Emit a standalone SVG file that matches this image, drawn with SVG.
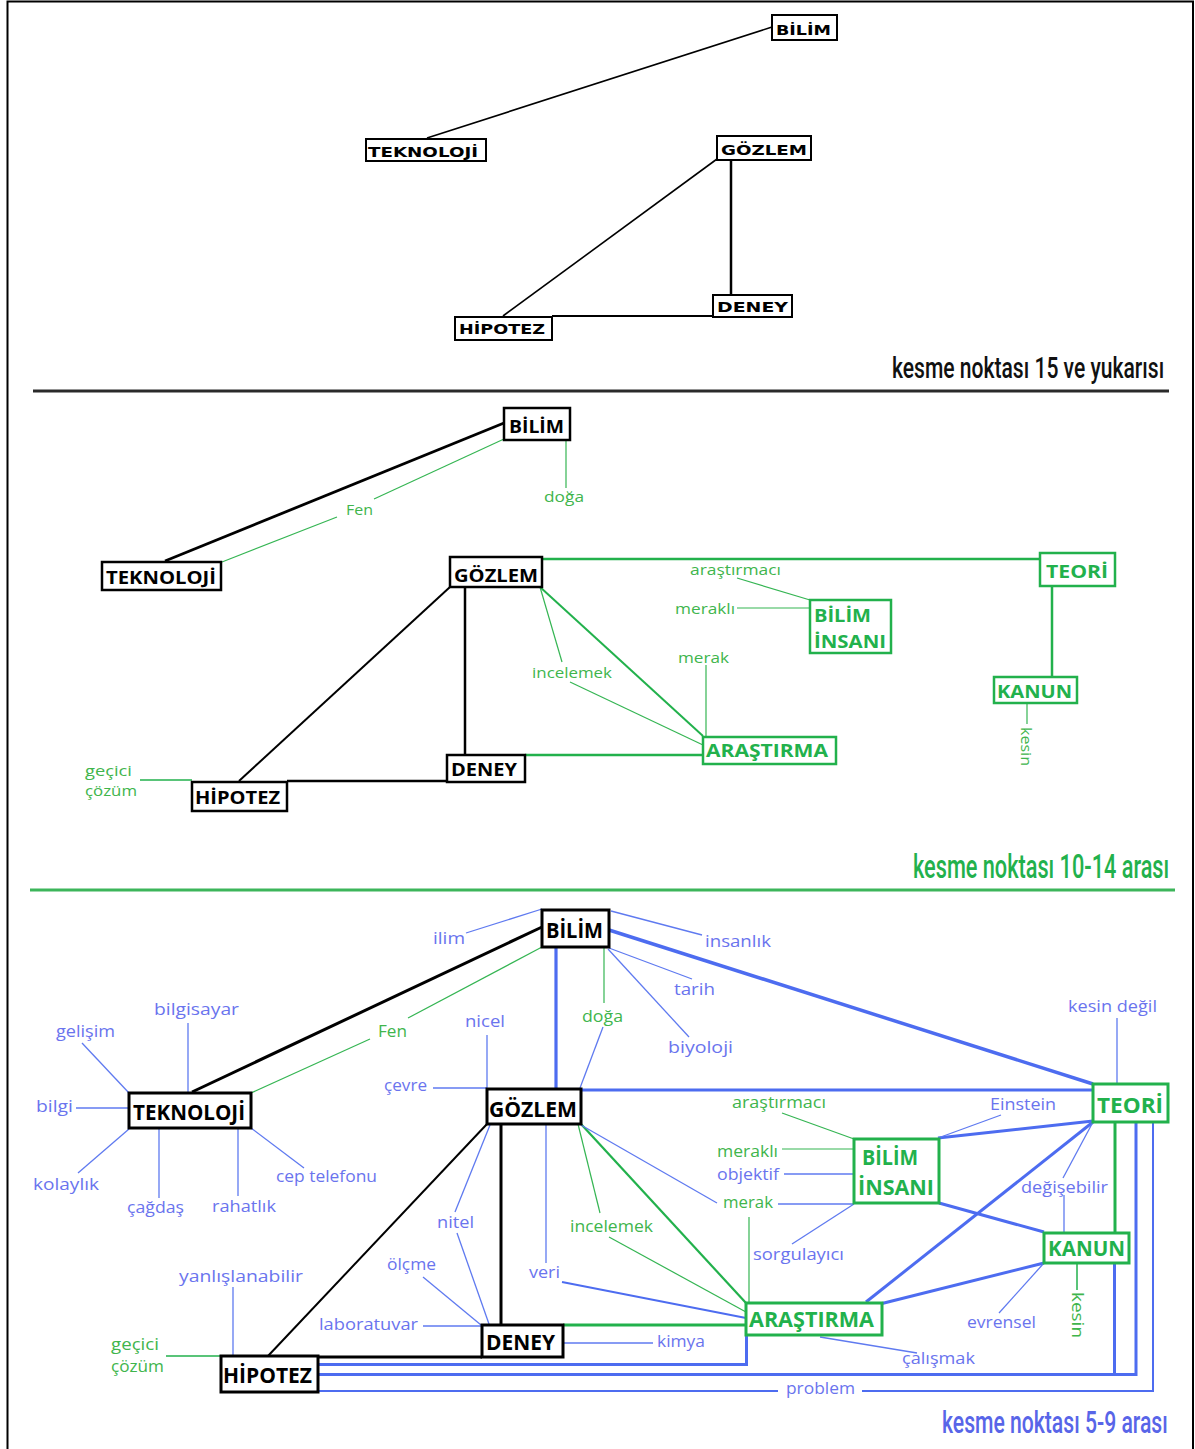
<svg xmlns="http://www.w3.org/2000/svg" width="1195" height="1449" viewBox="0 0 1195 1449">
<style>
.frame{fill:none;stroke:#000;stroke-width:2}
.nb{fill:#fff;stroke:#000}
.ng{fill:#fff;stroke:#22b14c}
.n1{font-family:"DejaVu Sans",sans-serif;font-weight:bold;font-size:14px;fill:#000}
.n2{font-family:"Open Sans","Liberation Sans",sans-serif;font-weight:bold;font-size:18px}
.n3{font-family:"Open Sans","Liberation Sans",sans-serif;font-weight:bold;font-size:21px}
.tk{fill:#000}
.tg{fill:#22b14c}
.l2{font-family:"Open Sans","Noto Sans",sans-serif;font-size:14px}
.l3{font-family:"Open Sans","Noto Sans",sans-serif;font-size:16.5px}
.lg{fill:#40b54c}
.lb{fill:#6a74ee}
.ttl{font-family:Roboto,"Liberation Sans",sans-serif;font-weight:500}
.k{stroke:#000;fill:none}
.g{stroke:#22b14c;fill:none}
.b{stroke:#4d6cf0;fill:none}
.bt{stroke:#5f7af0;fill:none;stroke-width:1.3}
.gt{stroke:#35b553;fill:none;stroke-width:1.2}
</style>
<rect class="frame" x="7.5" y="1.5" width="1185.5" height="1460"/>
<line x1="33" y1="391" x2="1169" y2="391" stroke="#2a2a2a" stroke-width="3"/>
<line x1="30" y1="890" x2="1175" y2="890" stroke="#3cb55a" stroke-width="3"/>
<g transform="translate(892,378) scale(0.72,1)"><text class="ttl" x="0" y="0" font-size="30" fill="#111" textLength="378" lengthAdjust="spacingAndGlyphs">kesme noktası 15 ve yukarısı</text></g>
<g transform="translate(913,878) scale(0.7,1)"><text class="ttl" x="0" y="0" font-size="33" fill="#22b14c" textLength="366" lengthAdjust="spacingAndGlyphs">kesme noktası 10-14 arası</text></g>
<g transform="translate(942,1433) scale(0.66,1)"><text class="ttl" x="0" y="0" font-size="32" fill="#5865e8" textLength="342" lengthAdjust="spacingAndGlyphs">kesme noktası 5-9 arası</text></g>

<g id="connectors">
  <!-- section 1 -->
  <line class="k" stroke-width="1.6" x1="772" y1="27" x2="427" y2="138"/>
  <line class="k" stroke-width="1.6" x1="717" y1="159" x2="503" y2="316"/>
  <line class="k" stroke-width="2.5" x1="731" y1="160" x2="731" y2="295"/>
  <line class="k" stroke-width="2" x1="552" y1="316" x2="713" y2="316"/>
  <!-- section 2 -->
  <line class="k" stroke-width="2.8" x1="504" y1="423" x2="165" y2="561"/>
  <polyline class="gt" points="504,439 374,499"/>
  <polyline class="gt" points="337,517 222,562"/>
  <line class="gt" x1="566" y1="440" x2="566" y2="488"/>
  <line class="g" stroke-width="2.5" x1="542" y1="559" x2="1040" y2="559"/>
  <line class="g" stroke-width="2.5" x1="1052" y1="586" x2="1052" y2="677"/>
  <line class="gt" x1="1027" y1="703" x2="1027" y2="724"/>
  <line class="gt" x1="737" y1="578" x2="810" y2="600"/>
  <line class="gt" x1="737" y1="608" x2="810" y2="608"/>
  <line class="gt" x1="706" y1="665" x2="706" y2="737"/>
  <line class="g" stroke-width="2" x1="540" y1="587" x2="703" y2="736"/>
  <line class="gt" x1="540" y1="587" x2="562" y2="662"/>
  <line class="gt" x1="570" y1="682" x2="703" y2="745"/>
  <line class="g" stroke-width="2.5" x1="525" y1="755" x2="703" y2="755"/>
  <line class="k" stroke-width="2" x1="450" y1="587" x2="239" y2="781"/>
  <line class="k" stroke-width="2.5" x1="465" y1="587" x2="465" y2="755"/>
  <line class="k" stroke-width="2.5" x1="287" y1="781" x2="447" y2="781"/>
  <line class="g" stroke-width="1.5" x1="140" y1="780" x2="192" y2="780"/>
  <!-- section 3 black -->
  <line class="k" stroke-width="3" x1="542" y1="927" x2="192" y2="1092"/>
  <line class="k" stroke-width="2" x1="487" y1="1124" x2="268" y2="1356"/>
  <line class="k" stroke-width="3" x1="501" y1="1124" x2="501" y2="1325"/>
  <line class="k" stroke-width="3" x1="318" y1="1357" x2="482" y2="1357"/>
  <!-- section 3 green -->
  <line class="gt" x1="542" y1="947" x2="408" y2="1018"/>
  <line class="gt" x1="370" y1="1039" x2="251" y2="1093"/>
  <line class="gt" x1="604" y1="947" x2="604" y2="1003"/>
  <line class="g" stroke-width="2.2" x1="581" y1="1124" x2="746" y2="1303"/>
  <line class="gt" x1="578" y1="1124" x2="600" y2="1213"/>
  <line class="gt" x1="609" y1="1237" x2="746" y2="1312"/>
  <line class="g" stroke-width="2.8" x1="563" y1="1325" x2="746" y2="1325"/>
  <line class="gt" x1="749" y1="1217" x2="749" y2="1303"/>
  <line class="gt" x1="782" y1="1113" x2="854" y2="1139"/>
  <line class="gt" x1="782" y1="1149" x2="854" y2="1149"/>
  <line class="g" stroke-width="3" x1="1115" y1="1123" x2="1115" y2="1233"/>
  <line class="g" stroke-width="1.5" x1="1077" y1="1263" x2="1077" y2="1290"/>
  <line class="g" stroke-width="1.5" x1="166" y1="1356" x2="221" y2="1356"/>
  <!-- section 3 blue thick -->
  <line class="b" stroke-width="3.5" x1="609" y1="930" x2="1093" y2="1084"/>
  <line class="b" stroke-width="3.2" x1="556" y1="947" x2="556" y2="1089"/>
  <line class="b" stroke-width="3" x1="581" y1="1090" x2="1093" y2="1090"/>
  <line class="b" stroke-width="3" x1="938" y1="1138" x2="1093" y2="1121"/>
  <line class="b" stroke-width="3" x1="939" y1="1203" x2="1044" y2="1232"/>
  <line class="b" stroke-width="3" x1="866" y1="1302" x2="1093" y2="1122"/>
  <line class="b" stroke-width="3" x1="880" y1="1304" x2="1044" y2="1263"/>
  <polyline class="b" stroke-width="3" points="318,1364.5 746.5,1364.5 746.5,1335"/>
  <polyline class="b" stroke-width="3" points="318,1374.5 1136,1374.5 1136,1123"/>
  <line class="b" stroke-width="3" x1="1114.5" y1="1263" x2="1114.5" y2="1374.5"/>
  <polyline class="b" stroke-width="2" points="318,1391 778,1391"/>
  <polyline class="b" stroke-width="2" points="862,1391 1153,1391 1153,1123"/>
  <!-- section 3 blue thin -->
  <line class="bt" x1="542" y1="909" x2="466" y2="933"/>
  <line class="bt" x1="611" y1="911" x2="702" y2="935"/>
  <line class="bt" x1="609" y1="948" x2="692" y2="979"/>
  <line class="bt" x1="608" y1="949" x2="689" y2="1037"/>
  <line class="bt" x1="603" y1="1027" x2="580" y2="1088"/>
  <line class="bt" x1="487" y1="1035" x2="487" y2="1089"/>
  <line class="bt" x1="433" y1="1088" x2="487" y2="1088"/>
  <line class="bt" x1="188" y1="1023" x2="188" y2="1093"/>
  <line class="bt" x1="82" y1="1043" x2="129" y2="1093"/>
  <line class="bt" x1="76" y1="1108" x2="129" y2="1108"/>
  <line class="bt" x1="78" y1="1173" x2="129" y2="1129"/>
  <line class="bt" x1="159" y1="1129" x2="159" y2="1198"/>
  <line class="bt" x1="238" y1="1129" x2="238" y2="1196"/>
  <line class="bt" x1="251" y1="1128" x2="304" y2="1168"/>
  <line class="bt" x1="233" y1="1287" x2="233" y2="1356"/>
  <line class="bt" x1="563" y1="1343" x2="653" y2="1343"/>
  <line class="bt" x1="423" y1="1326" x2="482" y2="1326"/>
  <line class="bt" x1="423" y1="1277" x2="481" y2="1325"/>
  <line class="bt" x1="490" y1="1125" x2="455" y2="1212"/>
  <line class="bt" x1="457" y1="1233" x2="489" y2="1324"/>
  <line class="bt" x1="546" y1="1124" x2="546" y2="1263"/>
  <line class="b" stroke-width="1.8" x1="562" y1="1282" x2="746" y2="1318"/>
  <line class="bt" x1="784" y1="1174" x2="854" y2="1174"/>
  <line class="bt" x1="778" y1="1204" x2="854" y2="1204"/>
  <line class="bt" x1="581" y1="1125" x2="717" y2="1203"/>
  <line class="bt" x1="792" y1="1244" x2="854" y2="1204"/>
  <line class="bt" x1="1001" y1="1115" x2="938" y2="1138"/>
  <line class="bt" x1="1093" y1="1122" x2="1063" y2="1178"/>
  <line class="bt" x1="1064" y1="1195" x2="1064" y2="1233"/>
  <line class="bt" x1="1117" y1="1018" x2="1117" y2="1084"/>
  <line class="bt" x1="999" y1="1313" x2="1044" y2="1263"/>
  <line class="bt" x1="820" y1="1337" x2="917" y2="1353"/>
</g>

<!-- section 1 nodes -->
<g id="s1-bilim"><rect class="nb" stroke-width="2" x="772" y="15" width="65" height="25"/><text class="n1" x="776" y="35" textLength="55" lengthAdjust="spacingAndGlyphs">BİLİM</text></g>
<g id="s1-teknoloji"><rect class="nb" stroke-width="2" x="366" y="139" width="120" height="22"/><text class="n1" x="368" y="157" textLength="110" lengthAdjust="spacingAndGlyphs">TEKNOLOJİ</text></g>
<g id="s1-gozlem"><rect class="nb" stroke-width="2" x="717" y="136" width="94" height="24"/><text class="n1" x="721" y="155" textLength="86" lengthAdjust="spacingAndGlyphs">GÖZLEM</text></g>
<g id="s1-deney"><rect class="nb" stroke-width="2" x="713" y="295" width="79" height="22"/><text class="n1" x="717" y="312" textLength="71" lengthAdjust="spacingAndGlyphs">DENEY</text></g>
<g id="s1-hipotez"><rect class="nb" stroke-width="2" x="455" y="317" width="97" height="23"/><text class="n1" x="459" y="334" textLength="86" lengthAdjust="spacingAndGlyphs">HİPOTEZ</text></g>

<!-- section 2 nodes -->
<g id="s2-bilim"><rect class="nb" stroke-width="2.5" x="504" y="408" width="66" height="32"/><text class="n2 tk" x="509" y="433" textLength="55" lengthAdjust="spacingAndGlyphs">BİLİM</text></g>
<g id="s2-teknoloji"><rect class="nb" stroke-width="2.5" x="102" y="562" width="119" height="28"/><text class="n2 tk" x="106" y="584" textLength="110" lengthAdjust="spacingAndGlyphs">TEKNOLOJİ</text></g>
<g id="s2-gozlem"><rect class="nb" stroke-width="2.5" x="450" y="557" width="92" height="30"/><text class="n2 tk" x="454" y="582" textLength="84" lengthAdjust="spacingAndGlyphs">GÖZLEM</text></g>
<g id="s2-deney"><rect class="nb" stroke-width="2.5" x="447" y="755" width="78" height="27"/><text class="n2 tk" x="451" y="776" textLength="66" lengthAdjust="spacingAndGlyphs">DENEY</text></g>
<g id="s2-hipotez"><rect class="nb" stroke-width="2.5" x="192" y="782" width="95" height="29"/><text class="n2 tk" x="195" y="804" textLength="85" lengthAdjust="spacingAndGlyphs">HİPOTEZ</text></g>
<g id="s2-teori"><rect class="ng" stroke-width="2.5" x="1040" y="553" width="75" height="33"/><text class="n2 tg" x="1046" y="578" textLength="62" lengthAdjust="spacingAndGlyphs">TEORİ</text></g>
<g id="s2-biliminsani"><rect class="ng" stroke-width="2.5" x="810" y="600" width="81" height="53"/><text class="n2 tg" x="814" y="622" textLength="57" lengthAdjust="spacingAndGlyphs">BİLİM</text><text class="n2 tg" x="814" y="648" textLength="72" lengthAdjust="spacingAndGlyphs">İNSANI</text></g>
<g id="s2-kanun"><rect class="ng" stroke-width="2.5" x="994" y="677" width="83" height="26"/><text class="n2 tg" x="997" y="698" textLength="75" lengthAdjust="spacingAndGlyphs">KANUN</text></g>
<g id="s2-arastirma"><rect class="ng" stroke-width="2.5" x="703" y="737" width="133" height="27"/><text class="n2 tg" x="706" y="757" textLength="122" lengthAdjust="spacingAndGlyphs">ARAŞTIRMA</text></g>

<!-- section 2 labels -->
<g id="s2-labels">
<text class="l2 lg" x="346" y="515" textLength="27" lengthAdjust="spacingAndGlyphs">Fen</text>
<text class="l2 lg" x="544" y="502" textLength="40" lengthAdjust="spacingAndGlyphs">doğa</text>
<text class="l2 lg" x="690" y="575" textLength="91" lengthAdjust="spacingAndGlyphs">araştırmacı</text>
<text class="l2 lg" x="675" y="614" textLength="60" lengthAdjust="spacingAndGlyphs">meraklı</text>
<text class="l2 lg" x="678" y="663" textLength="51" lengthAdjust="spacingAndGlyphs">merak</text>
<text class="l2 lg" x="532" y="678" textLength="80" lengthAdjust="spacingAndGlyphs">incelemek</text>
<text class="l2 lg" x="85" y="776" textLength="47" lengthAdjust="spacingAndGlyphs">geçici</text>
<text class="l2 lg" x="85" y="796" textLength="52" lengthAdjust="spacingAndGlyphs">çözüm</text>
<text class="l2 lg" transform="translate(1021,727) rotate(90)" x="0" y="0" textLength="39" lengthAdjust="spacingAndGlyphs">kesin</text>
</g>

<!-- section 3 nodes -->
<g id="s3-bilim"><rect class="nb" stroke-width="3" x="542" y="910" width="67" height="37"/><text class="n3 tk" x="546" y="938" textLength="57" lengthAdjust="spacingAndGlyphs">BİLİM</text></g>
<g id="s3-teknoloji"><rect class="nb" stroke-width="3" x="129" y="1093" width="122" height="35"/><text class="n3 tk" x="133" y="1120" textLength="112" lengthAdjust="spacingAndGlyphs">TEKNOLOJİ</text></g>
<g id="s3-gozlem"><rect class="nb" stroke-width="3" x="487" y="1089" width="94" height="35"/><text class="n3 tk" x="489" y="1117" textLength="88" lengthAdjust="spacingAndGlyphs">GÖZLEM</text></g>
<g id="s3-deney"><rect class="nb" stroke-width="3" x="482" y="1325" width="81" height="32"/><text class="n3 tk" x="486" y="1350" textLength="69" lengthAdjust="spacingAndGlyphs">DENEY</text></g>
<g id="s3-hipotez"><rect class="nb" stroke-width="3" x="221" y="1356" width="97" height="36"/><text class="n3 tk" x="223" y="1383" textLength="89" lengthAdjust="spacingAndGlyphs">HİPOTEZ</text></g>
<g id="s3-arastirma"><rect class="ng" stroke-width="3" x="746" y="1303" width="136" height="32"/><text class="n3 tg" x="749" y="1327" textLength="125" lengthAdjust="spacingAndGlyphs">ARAŞTIRMA</text></g>
<g id="s3-biliminsani"><rect class="ng" stroke-width="3" x="854" y="1139" width="85" height="64"/><text class="n3 tg" x="862" y="1165" textLength="56" lengthAdjust="spacingAndGlyphs">BİLİM</text><text class="n3 tg" x="858" y="1195" textLength="76" lengthAdjust="spacingAndGlyphs">İNSANI</text></g>
<g id="s3-teori"><rect class="ng" stroke-width="3" x="1093" y="1084" width="75" height="38"/><text class="n3 tg" x="1097" y="1113" textLength="66" lengthAdjust="spacingAndGlyphs">TEORİ</text></g>
<g id="s3-kanun"><rect class="ng" stroke-width="3" x="1044" y="1233" width="85" height="30"/><text class="n3 tg" x="1048" y="1256" textLength="77" lengthAdjust="spacingAndGlyphs">KANUN</text></g>

<!-- section 3 labels -->
<g id="s3-labels">
<text class="l3 lb" x="433" y="944" textLength="32" lengthAdjust="spacingAndGlyphs">ilim</text>
<text class="l3 lb" x="705" y="947" textLength="66" lengthAdjust="spacingAndGlyphs">insanlık</text>
<text class="l3 lb" x="674" y="995" textLength="41" lengthAdjust="spacingAndGlyphs">tarih</text>
<text class="l3 lb" x="668" y="1053" textLength="65" lengthAdjust="spacingAndGlyphs">biyoloji</text>
<text class="l3 lg" x="582" y="1022" textLength="41" lengthAdjust="spacingAndGlyphs">doğa</text>
<text class="l3 lg" x="378" y="1037" textLength="29" lengthAdjust="spacingAndGlyphs">Fen</text>
<text class="l3 lb" x="465" y="1027" textLength="40" lengthAdjust="spacingAndGlyphs">nicel</text>
<text class="l3 lb" x="384" y="1091" textLength="43" lengthAdjust="spacingAndGlyphs">çevre</text>
<text class="l3 lb" x="154" y="1015" textLength="85" lengthAdjust="spacingAndGlyphs">bilgisayar</text>
<text class="l3 lb" x="56" y="1037" textLength="59" lengthAdjust="spacingAndGlyphs">gelişim</text>
<text class="l3 lb" x="36" y="1112" textLength="37" lengthAdjust="spacingAndGlyphs">bilgi</text>
<text class="l3 lb" x="33" y="1190" textLength="66" lengthAdjust="spacingAndGlyphs">kolaylık</text>
<text class="l3 lb" x="127" y="1213" textLength="57" lengthAdjust="spacingAndGlyphs">çağdaş</text>
<text class="l3 lb" x="212" y="1212" textLength="64" lengthAdjust="spacingAndGlyphs">rahatlık</text>
<text class="l3 lb" x="276" y="1182" textLength="101" lengthAdjust="spacingAndGlyphs">cep telefonu</text>
<text class="l3 lb" x="179" y="1282" textLength="124" lengthAdjust="spacingAndGlyphs">yanlışlanabilir</text>
<text class="l3 lg" x="111" y="1350" textLength="48" lengthAdjust="spacingAndGlyphs">geçici</text>
<text class="l3 lg" x="111" y="1372" textLength="53" lengthAdjust="spacingAndGlyphs">çözüm</text>
<text class="l3 lb" x="319" y="1330" textLength="99" lengthAdjust="spacingAndGlyphs">laboratuvar</text>
<text class="l3 lb" x="387" y="1270" textLength="49" lengthAdjust="spacingAndGlyphs">ölçme</text>
<text class="l3 lb" x="437" y="1228" textLength="37" lengthAdjust="spacingAndGlyphs">nitel</text>
<text class="l3 lb" x="529" y="1278" textLength="31" lengthAdjust="spacingAndGlyphs">veri</text>
<text class="l3 lg" x="570" y="1232" textLength="83" lengthAdjust="spacingAndGlyphs">incelemek</text>
<text class="l3 lb" x="657" y="1347" textLength="48" lengthAdjust="spacingAndGlyphs">kimya</text>
<text class="l3 lg" x="732" y="1108" textLength="94" lengthAdjust="spacingAndGlyphs">araştırmacı</text>
<text class="l3 lg" x="717" y="1157" textLength="61" lengthAdjust="spacingAndGlyphs">meraklı</text>
<text class="l3 lb" x="717" y="1180" textLength="62" lengthAdjust="spacingAndGlyphs">objektif</text>
<text class="l3 lg" x="723" y="1208" textLength="50" lengthAdjust="spacingAndGlyphs">merak</text>
<text class="l3 lb" x="753" y="1260" textLength="91" lengthAdjust="spacingAndGlyphs">sorgulayıcı</text>
<text class="l3 lb" x="990" y="1110" textLength="66" lengthAdjust="spacingAndGlyphs">Einstein</text>
<text class="l3 lb" x="1068" y="1012" textLength="89" lengthAdjust="spacingAndGlyphs">kesin değil</text>
<text class="l3 lb" x="1021" y="1193" textLength="87" lengthAdjust="spacingAndGlyphs">değişebilir</text>
<text class="l3 lb" x="967" y="1328" textLength="69" lengthAdjust="spacingAndGlyphs">evrensel</text>
<text class="l3 lb" x="902" y="1364" textLength="73" lengthAdjust="spacingAndGlyphs">çalışmak</text>
<text class="l3 lb" x="786" y="1394" textLength="69" lengthAdjust="spacingAndGlyphs">problem</text>
<text class="l3 lg" transform="translate(1072,1292) rotate(90)" x="0" y="0" textLength="46" lengthAdjust="spacingAndGlyphs">kesin</text>
</g>
</svg>
